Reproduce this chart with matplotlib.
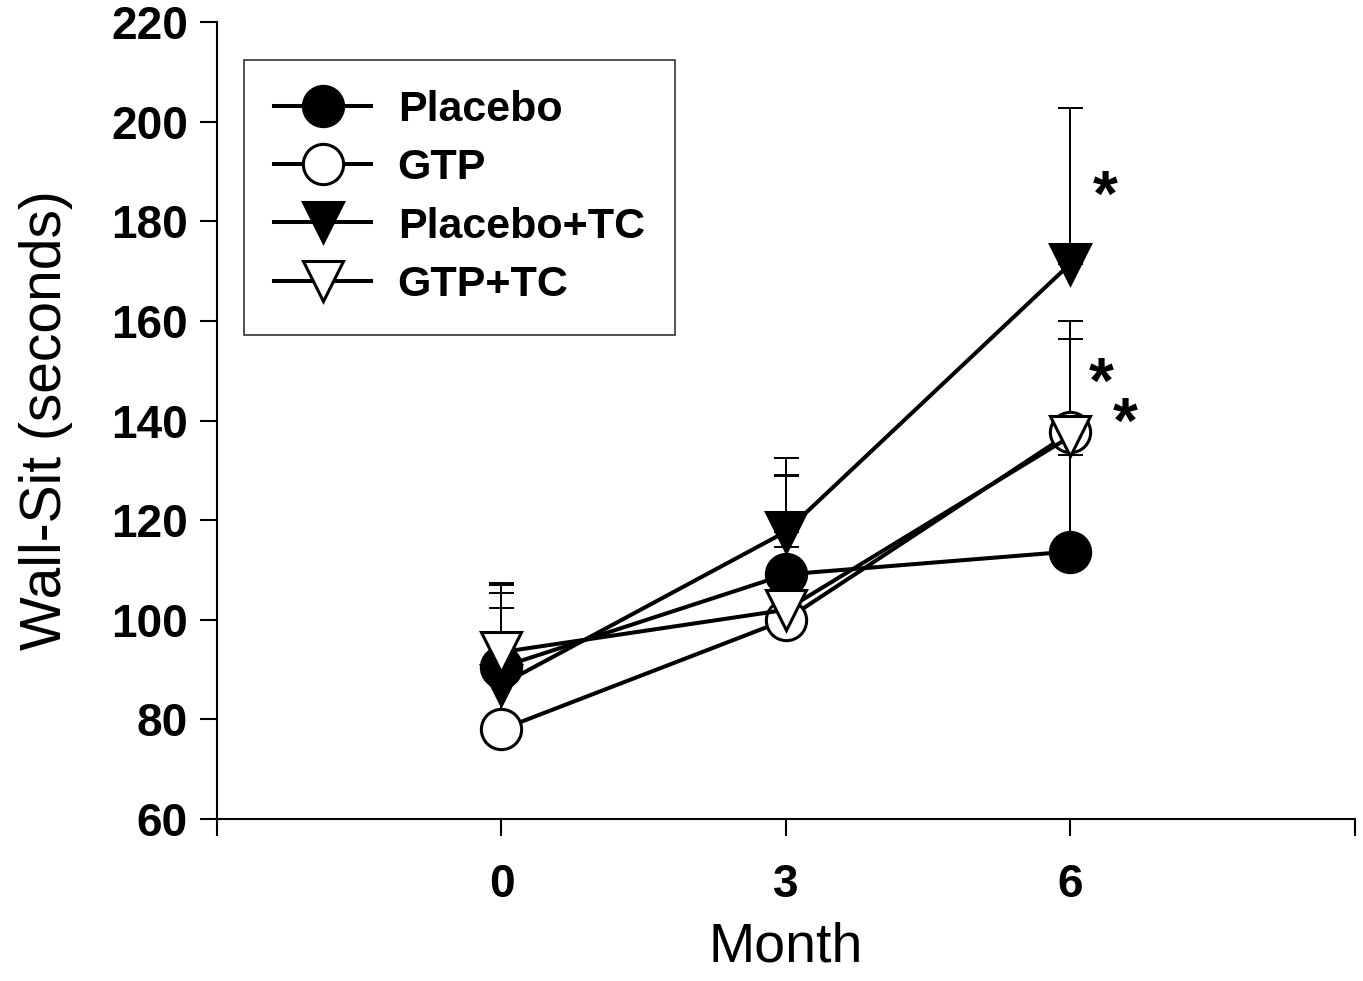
import matplotlib
matplotlib.use('Agg')
import matplotlib.pyplot as plt
import numpy as np

plt.rcParams['font.family'] = ['Liberation Sans', 'DejaVu Sans']

# data
months = [0, 3, 6]
placebo = [90.5, 109.1, 113.7]
placebo_err = [11.8, 5.6, 19.4]
gtp = [78.0, 100.0, 137.6]
gtp_err = [27.3, 29.1, 22.4]
placebo_tc = [87.0, 117.7, 171.5]
placebo_tc_err = [20.3, 14.8, 31.2]
gtp_tc = [93.5, 102.0, 136.8]
gtp_tc_err = [13.5, 26.8, 19.6]

names = ['Placebo', 'GTP', 'Placebo+TC', 'GTP+TC']
star_x = [6.37, 6.32, 6.58]
star_y = [184.5, 147.0, 139.0]

fig = plt.figure(figsize=(13.63, 9.81), dpi=100)
ax = fig.add_axes([0.1592, 0.1651, 0.8349, 0.8125])

series = [
    (placebo, placebo_err, 'o', 'black', 29),
    (gtp, gtp_err, 'o', 'white', 29),
    (placebo_tc, placebo_tc_err, 'v', 'black', 29),
    (gtp_tc, gtp_tc_err, 'v', 'white', 29),
]

handles = []
for (vals, err, mk, fc, ms), name in zip(series, names):
    ax.errorbar(months, vals, yerr=[np.zeros(len(err)), err], fmt='none',
                ecolor='black', elinewidth=1.4, capsize=9, capthick=1.4, zorder=2)
    h, = ax.plot(months, vals, color='black', lw=2.9, marker=mk, ms=ms,
                 mfc=fc, mec='black', mew=2.2, label=name, zorder=3)
    handles.append(h)

for sx, sy in zip(star_x, star_y):
    ax.text(sx, sy, '*', fontsize=46, fontweight='bold', ha='center', va='center')

ax.set_xlim(-3, 9)
ax.set_ylim(60, 220)
ax.set_xticks([-3, 0, 3, 6, 9])
ax.set_xticklabels(['', '0', '3', '6', ''])
ax.set_yticks(np.arange(60, 221, 20))

for s in ['top', 'right']:
    ax.spines[s].set_visible(False)
for s in ['left', 'bottom']:
    ax.spines[s].set_linewidth(1.5)

ax.tick_params(axis='both', direction='out', length=12, width=1.5, labelsize=33)
ax.tick_params(axis='x', pad=20)
ax.tick_params(axis='y', pad=9)
for lab in ax.get_xticklabels() + ax.get_yticklabels():
    lab.set_fontweight('bold')

ax.set_xlabel('Month', fontsize=40, labelpad=10)
ax.set_ylabel('Wall-Sit (seconds)', fontsize=41, labelpad=27)

leg = ax.legend(handles=handles, loc='upper left', bbox_to_anchor=(0.0237, 0.952),
                borderaxespad=0, fancybox=False, edgecolor='black',
                prop={'size': 31, 'weight': 'bold'}, handlelength=2.25,
                handletextpad=0.62, labelspacing=0.42, borderpad=0.7)
leg.get_frame().set_linewidth(1.2)

fig.savefig('out.png', dpi=100)
